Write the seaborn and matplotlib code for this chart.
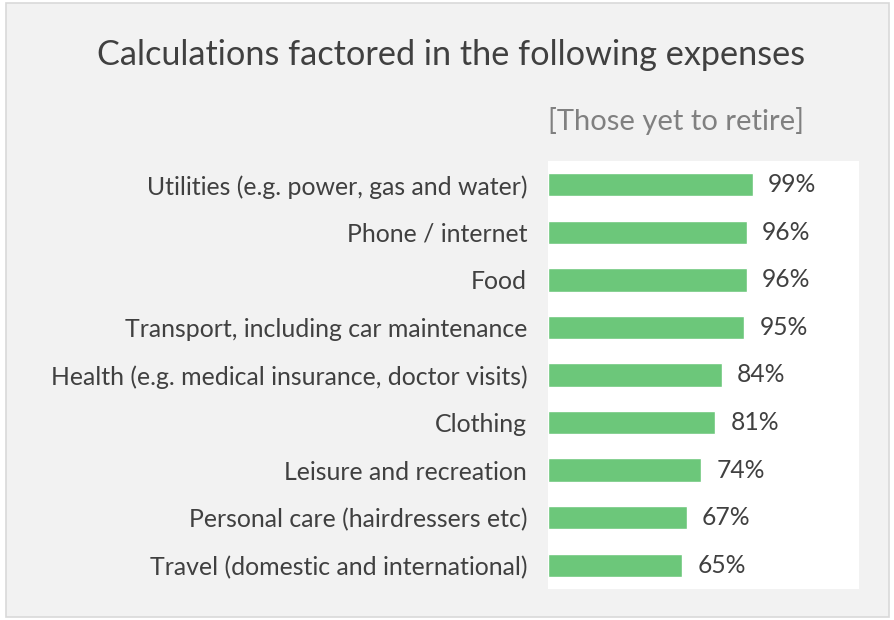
import matplotlib
matplotlib.use("Agg")
import matplotlib.pyplot as plt
import seaborn as sns
import pandas as pd
from matplotlib.patches import Rectangle

categories = [
    "Utilities (e.g. power, gas and water)",
    "Phone / internet",
    "Food",
    "Transport, including car maintenance",
    "Health (e.g. medical insurance, doctor visits)",
    "Clothing",
    "Leisure and recreation",
    "Personal care (hairdressers etc)",
    "Travel (domestic and international)",
]
values = [99, 96, 96, 95, 84, 81, 74, 67, 65]
title = "Calculations factored in the following expenses"
subtitle = "[Those yet to retire]"

sns.set_theme(style="white")
plt.rcParams["font.family"] = ["Lato", "DejaVu Sans"]

W, H = 894, 620
fig = plt.figure(figsize=(W / 100, H / 100), dpi=100, facecolor="white")
fig.patches.append(Rectangle((6 / W, 3 / H), (889 - 6) / W, (617 - 3) / H,
                             transform=fig.transFigure, facecolor="#f2f2f2",
                             edgecolor="#d9d9d9", linewidth=1.2, zorder=-10))

ax = fig.add_axes([548 / W, (H - 589) / H, (859 - 548) / W, (589 - 161) / H])
ax.set_zorder(5)
ax.set_facecolor("white")

df = pd.DataFrame({"cat": categories, "val": values})
sns.barplot(data=df, x="val", y="cat", orient="h", color="#6cc77a",
            saturation=1, width=0.49, ax=ax)

ax.set_xlim(0, 150.4)
ax.set_ylim(len(categories) - 0.5, -0.5)
for i, v in enumerate(values):
    ax.text(v + 7.5, i, f"{v}%", va="center", ha="left", fontsize=17.7, color="#404040")

ax.set_xlabel("")
ax.set_ylabel("")
ax.set_xticks([])
ax.tick_params(axis="y", length=0, pad=15, labelsize=17.9, labelcolor="#404040")
for s in ax.spines.values():
    s.set_visible(False)

fig.text(451 / W, 1 - 55 / H, title, ha="center", va="center", fontsize=24.7, color="#404040")
fig.text(548 / W, 1 - 121 / H, subtitle, ha="left", va="center", fontsize=21, color="#808080")

fig.savefig("out.png", dpi=100, facecolor=fig.get_facecolor())
